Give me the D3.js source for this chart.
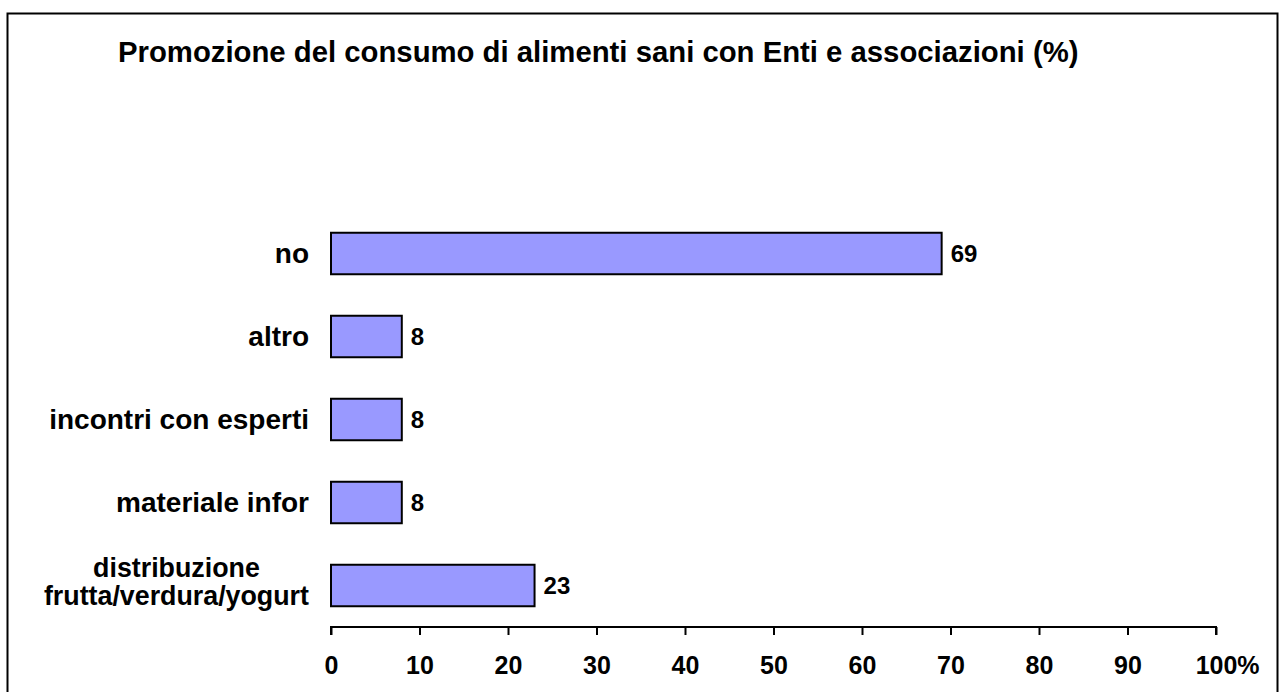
<!DOCTYPE html>
<html>
<head>
<meta charset="utf-8">
<script src="https://cdn.jsdelivr.net/npm/d3@7"></script>
<style>
  body { margin: 0; background: #fff; }
  svg { display: block; font-family: "Liberation Sans", Arial, sans-serif; font-weight: bold; }
</style>
</head>
<body>
<svg width="1284" height="692"></svg>
<script>
// data, top to bottom as drawn
const categories = ["no", "altro", "incontri con esperti", "materiale infor", "distribuzione\nfrutta/verdura/yogurt"];
const values = [69, 8, 8, 8, 23];
const ticks = [0, 10, 20, 30, 40, 50, 60, 70, 80, 90, 100];
const title = "Promozione del consumo di alimenti sani con Enti e associazioni (%)";

const svg = d3.select("svg");

// outer frame
svg.append("rect")
  .attr("x", 7.5).attr("y", 13.5)
  .attr("width", 1270).attr("height", 700)
  .attr("fill", "none").attr("stroke", "#000").attr("stroke-width", 2);

svg.append("text")
  .attr("x", 118).attr("y", 62)
  .attr("font-size", 29.3)
  .text(title);

const x = d3.scaleLinear().domain([0, 100]).range([331, 1216]);
const y = d3.scaleBand().domain(categories).range([212, 627]).paddingInner(0.5).paddingOuter(0.25);

const rows = categories.map((c, i) => ({ cat: c, val: values[i] }));

svg.selectAll("rect.bar")
  .data(rows)
  .enter()
  .append("rect")
  .attr("class", "bar")
  .attr("x", x(0))
  .attr("y", d => y(d.cat))
  .attr("width", d => x(d.val) - x(0))
  .attr("height", y.bandwidth())
  .attr("fill", "#9999ff")
  .attr("stroke", "#000")
  .attr("stroke-width", 2);

svg.selectAll("text.val")
  .data(rows)
  .enter()
  .append("text")
  .attr("class", "val")
  .attr("x", d => x(d.val) + 9)
  .attr("y", d => y(d.cat) + y.bandwidth() / 2)
  .attr("dy", "0.35em")
  .attr("font-size", 24)
  .text(d => d.val);

// category labels, multi-line ones centred as a block right-aligned to the axis
const lab = svg.selectAll("text.cat")
  .data(rows)
  .enter()
  .append("text")
  .attr("class", "cat")
  .attr("font-size", 28);

lab.each(function (d) {
  const t = d3.select(this);
  const lines = d.cat.split("\n");
  const cy = y(d.cat) + y.bandwidth() / 2;
  if (lines.length === 1) {
    t.attr("x", 309).attr("y", cy).attr("dy", "0.35em").attr("text-anchor", "end").text(lines[0]);
  } else {
    t.attr("text-anchor", "middle").attr("font-size", 26.8);
    lines.forEach((l, i) => {
      t.append("tspan").attr("x", 0).attr("y", cy + (i - (lines.length - 1) / 2) * 28 - 4).attr("dy", "0.35em").text(l);
    });
    const w = this.getBBox().width;
    t.selectAll("tspan").attr("x", 309 - w / 2);
  }
});

const axis = d3.axisBottom(x)
  .tickValues(ticks)
  .tickSize(8)
  .tickPadding(21);

const g = svg.append("g")
  .attr("transform", "translate(0,627)")
  .call(axis);
g.select(".domain").attr("stroke-width", 2).attr("d", `M${x(0)},8V0H${x(100)}V8`);
g.selectAll(".tick line").attr("stroke-width", 2);
g.selectAll(".tick text")
  .attr("font-size", 25)
  .attr("font-family", "'Liberation Sans', Arial, sans-serif")
  .attr("font-weight", "bold")
  .attr("fill", "#000");

// the last label keeps its number centred on the tick, with % hanging after it
const last = g.selectAll(".tick text").filter(d => d === 100);
last.attr("text-anchor", "start").text(null);
const numW = (() => {
  last.text("100");
  const w = last.node().getComputedTextLength();
  last.text(null);
  return w;
})();
last.attr("x", -numW / 2);
last.append("tspan").text("100");
last.append("tspan").text("%");
</script>
</body>
</html>
